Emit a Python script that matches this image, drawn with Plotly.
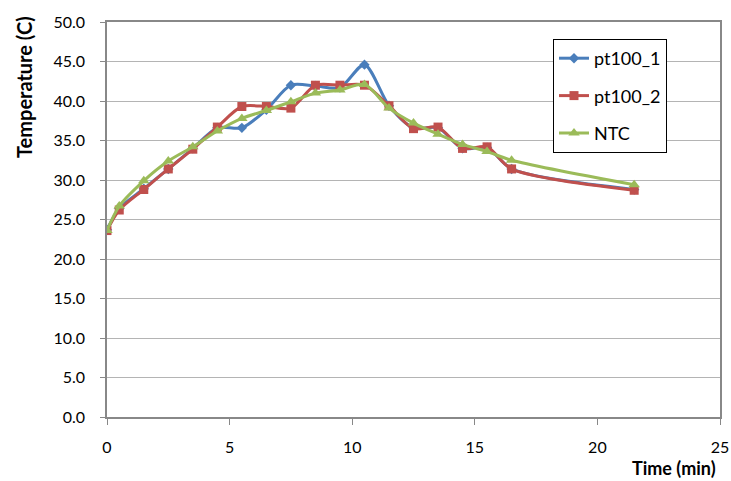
import plotly.graph_objects as go

time_min = [0, 0.5, 1.5, 2.5, 3.5, 4.5, 5.5, 6.5, 7.5, 8.5, 9.5, 10.5, 11.5, 12.5, 13.5, 14.5, 15.5, 16.5, 21.5]
pt100_1 = [23.7, 26.4, 28.9, 31.4, 34.0, 36.6, 36.6, 38.9, 42.0, 41.9, 41.7, 44.6, 39.4, 36.6, 36.6, 34.0, 34.1, 31.4, 28.8]
pt100_2 = [23.6, 26.2, 28.8, 31.4, 33.9, 36.7, 39.3, 39.3, 39.1, 42.0, 42.0, 42.0, 39.4, 36.5, 36.7, 34.0, 34.2, 31.4, 28.7]
ntc = [23.6, 26.7, 29.9, 32.4, 34.2, 36.2, 37.8, 38.8, 39.9, 41.0, 41.4, 42.1, 39.1, 37.2, 35.8, 34.5, 33.6, 32.5, 29.4]

x_ticks = [0, 5, 10, 15, 20, 25]
y_ticks = [0, 5, 10, 15, 20, 25, 30, 35, 40, 45, 50]

FONT = "Lato"

fig = go.Figure()
series = [
    ("pt100_1", pt100_1, "#4A7EBB", "diamond", 8),
    ("pt100_2", pt100_2, "#C0504D", "square", 9),
    ("NTC", ntc, "#9BBB59", "triangle-up", 10),
]
for name, ys, color, sym, size in series:
    fig.add_trace(go.Scatter(
        x=time_min, y=ys, name=name, legendgroup=name, mode="lines+markers",
        line=dict(color=color, width=3, shape="spline", smoothing=0.8),
        marker=dict(symbol=sym, size=size, color=color),
    ))

fig.update_layout(
    width=731, height=481,
    margin=dict(l=107, r=11, t=22, b=64, autoexpand=False),
    plot_bgcolor="white", paper_bgcolor="white",
    font=dict(family=FONT, size=16, color="black"),
    showlegend=True,
    legend=dict(
        x=(553 - 107) / 613, y=(417 - 39) / 395, xanchor="left", yanchor="top",
        bordercolor="black", borderwidth=1, bgcolor="white",
        font=dict(family=FONT, size=18, color="black"),
        tracegroupgap=11, itemwidth=30,
    ),
    xaxis=dict(
        range=[0, 25], tickvals=x_ticks, ticktext=[str(v) for v in x_ticks],
        showgrid=False, zeroline=False, automargin=False,
        showline=True, linecolor="#888888", linewidth=1.5, mirror=True,
        ticks="outside", ticklen=6, tickcolor="#888888",
        ticklabelstandoff=9, ticklabeloverflow="allow",
        tickfont=dict(family=FONT, size=16, color="black"),
    ),
    yaxis=dict(
        range=[0, 50], tickvals=y_ticks, ticktext=[f"{v:.1f}" for v in y_ticks],
        showgrid=True, gridcolor="#B4B4B4", gridwidth=1, zeroline=False, automargin=False,
        showline=True, linecolor="#888888", linewidth=1.5, mirror=True,
        ticks="outside", ticklen=5, tickcolor="#888888",
        ticklabelstandoff=12, ticklabeloverflow="allow",
        tickfont=dict(family=FONT, size=16, color="black"),
    ),
    annotations=[
        dict(text="<b>Time (min)</b>", xref="paper", yref="paper",
             x=(718 - 107) / 613, y=(417 - 468) / 395, xanchor="right", yanchor="middle",
             showarrow=False, font=dict(family=FONT, size=18, color="black")),
        dict(text="<b>Temperature (C)</b>", xref="paper", yref="paper",
             x=(24 - 107) / 613, y=(417 - 87) / 395, xanchor="center", yanchor="middle",
             textangle=-90, showarrow=False, font=dict(family=FONT, size=20, color="black")),
    ],
)

fig.write_html(
    "out.html",
    config={"displayModeBar": False},
    post_script="document.body.style.margin='0';document.body.style.overflow='hidden';",
)
